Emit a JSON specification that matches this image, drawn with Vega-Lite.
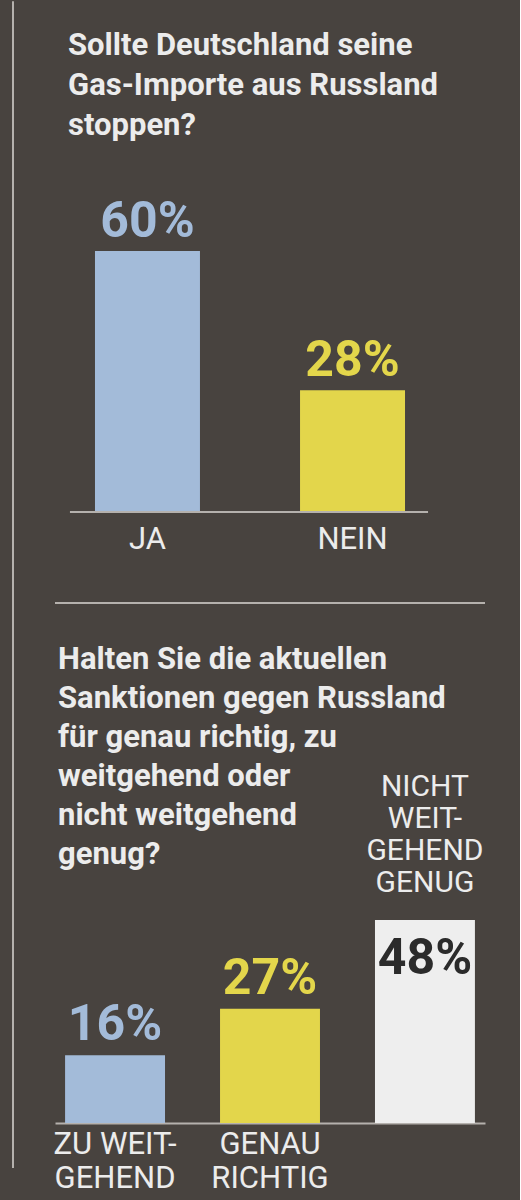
{
  "$schema": "https://vega.github.io/schema/vega-lite/v6.json",
  "description": "Umfrage: Gas-Importe aus Russland stoppen? / Sanktionen gegen Russland",
  "background": "#48433f",
  "padding": {"left": 12, "top": 0, "right": 34, "bottom": 10},
  "spacing": 39,
  "config": {
    "view": {"stroke": null},
    "font": "Roboto",
    "axis": {"labelColor": "#ececec", "labelFont": "Roboto", "labelFontSize": 31, "labelAngle": 0, "ticks": false, "title": null, "grid": false}
  },
  "hconcat": [
    {
      "width": 1,
      "height": 987,
      "data": {"values": [{}]},
      "mark": {"type": "rule", "color": "#b5b1ad", "strokeWidth": 2},
      "encoding": {
        "x": {"datum": 0, "type": "quantitative", "scale": {"domain": [0, 1]}, "axis": null},
        "y": {"datum": 0, "type": "quantitative", "scale": {"domain": [0, 1]}, "axis": null},
        "y2": {"datum": 1.182}
      }
    },
    {
      "spacing": 40,
      "resolve": {"scale": {"color": "independent"}},
      "vconcat": [
        {
          "width": 390,
          "height": 331,
          "title": {
            "text": " ",
            "fontSize": 11,
            "subtitle": ["Sollte Deutschland seine", "Gas-Importe aus Russland", "stoppen?"],
            "subtitleFont": "Roboto",
            "subtitleFontSize": 31,
            "subtitleFontWeight": "bold",
            "subtitleColor": "#ececec",
            "subtitleLineHeight": 40,
            "subtitlePadding": 20,
            "anchor": "start",
            "dx": 13,
            "offset": 40
          },
          "data": {"values": [
            {"antwort": "JA", "anteil": 60},
            {"antwort": "NEIN", "anteil": 28}
          ]},
          "transform": [{"calculate": "datum.anteil + '%'", "as": "label"}],
          "encoding": {
            "x": {"field": "antwort", "type": "nominal", "sort": null,
                  "scale": {"paddingInner": 0.488, "paddingOuter": 0.195},
                  "axis": {"domain": false, "labelPadding": 12}},
            "y": {"field": "anteil", "type": "quantitative", "scale": {"domain": [0, 76.1], "nice": false}, "axis": null},
            "color": {"field": "antwort", "type": "nominal", "scale": {"domain": ["JA", "NEIN"], "range": ["#a3bbd9", "#e3d64b"]}, "legend": null}
          },
          "layer": [
            {"mark": {"type": "bar"}},
            {"mark": {"type": "text", "baseline": "alphabetic", "dy": -14, "font": "Roboto", "fontSize": 50, "fontWeight": "bold"},
             "encoding": {"text": {"field": "label"}}},
            {"mark": {"type": "rule", "color": "#b5b1ad", "strokeWidth": 2, "xOffset": -77.5, "x2Offset": 75.5},
             "encoding": {"x": {"datum": "JA"}, "x2": {"datum": "NEIN"}, "y": {"datum": 0}, "color": {"value": "#b5b1ad"}}}
          ]
        },
        {
          "width": 430,
          "height": 9,
          "data": {"values": [{}]},
          "mark": {"type": "rule", "color": "#b5b1ad", "strokeWidth": 2},
          "encoding": {"y": {"datum": 0, "type": "quantitative", "scale": {"domain": [0, 1]}, "axis": null}}
        },
        {
          "width": 430,
          "height": 360,
          "title": {
            "text": ["Halten Sie die aktuellen", "Sanktionen gegen Russland", "für genau richtig, zu", "weitgehend oder", "nicht weitgehend", "genug?"],
            "font": "Roboto",
            "fontSize": 31,
            "fontWeight": "bold",
            "color": "#ececec",
            "lineHeight": 39,
            "anchor": "start",
            "dx": 5,
            "offset": -108
          },
          "data": {"values": [
            {"gruppe": "zu weitgehend", "antwort": "ZU WEIT-\nGEHEND", "anteil": 16},
            {"gruppe": "genau richtig", "antwort": "GENAU\nRICHTIG", "anteil": 27},
            {"gruppe": "nicht weitgehend genug", "antwort": "NICHT\nWEIT-\nGEHEND\nGENUG", "anteil": 48}
          ]},
          "transform": [{"calculate": "datum.anteil + '%'", "as": "label"}],
          "encoding": {
            "x": {"field": "antwort", "type": "nominal", "sort": null,
                  "scale": {"paddingInner": 0.355, "paddingOuter": 0.065},
                  "axis": {"domain": true, "domainColor": "#b5b1ad", "domainWidth": 2, "labelPadding": 6, "labelLineHeight": 34,
                           "labelExpr": "indexof(datum.label, 'NICHT') == 0 ? '' : split(datum.label, '\\n')"}},
            "y": {"field": "anteil", "type": "quantitative", "scale": {"domain": [0, 85.1], "nice": false}, "axis": null},
            "color": {"field": "gruppe", "type": "nominal",
                      "scale": {"domain": ["zu weitgehend", "genau richtig", "nicht weitgehend genug"], "range": ["#a3bbd9", "#e3d64b", "#eeeeee"]}, "legend": null}
          },
          "layer": [
            {"mark": {"type": "bar"}},
            {"transform": [{"filter": "datum.gruppe != 'nicht weitgehend genug'"}],
             "mark": {"type": "text", "baseline": "alphabetic", "dy": -15, "font": "Roboto", "fontSize": 50, "fontWeight": "bold"},
             "encoding": {"text": {"field": "label"}}},
            {"transform": [{"filter": "datum.gruppe == 'nicht weitgehend genug'"}],
             "mark": {"type": "text", "baseline": "alphabetic", "dy": 54, "font": "Roboto", "fontSize": 50, "fontWeight": "bold"},
             "encoding": {"text": {"field": "label"}, "color": {"value": "#2b2b2b"}}},
            {"transform": [{"filter": "datum.gruppe == 'nicht weitgehend genug'"}],
             "mark": {"type": "text", "baseline": "alphabetic", "dy": -124, "lineBreak": "\n", "lineHeight": 32, "font": "Roboto", "fontSize": 30},
             "encoding": {"text": {"field": "antwort"}, "color": {"value": "#ececec"}}}
          ]
        }
      ]
    }
  ]
}
